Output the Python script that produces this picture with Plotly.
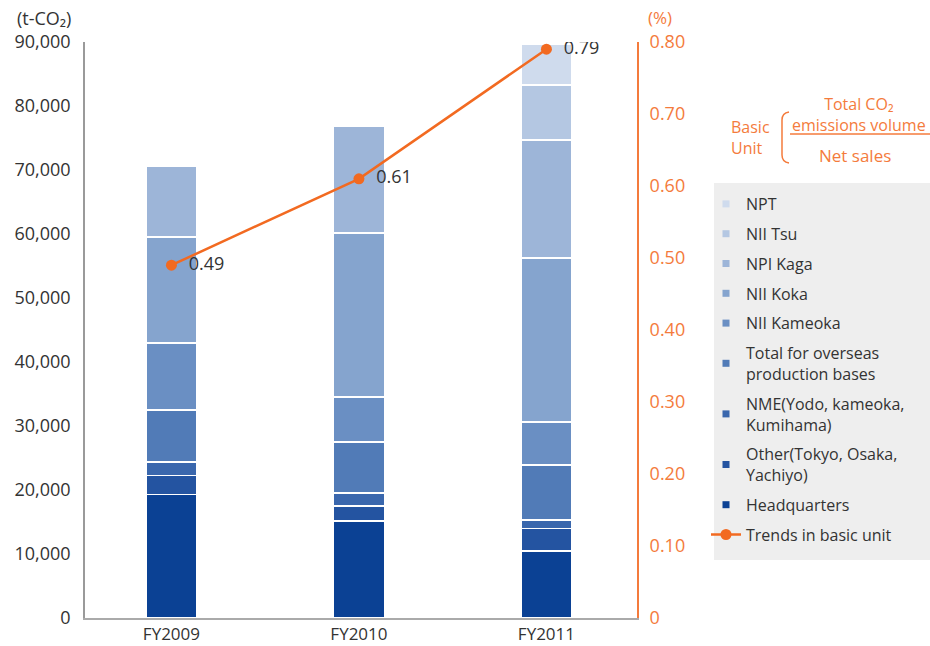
import plotly.graph_objects as go

years = ["FY2009", "FY2010", "FY2011"]

# stacked series, bottom to top (t-CO2)
headquarters = [19300, 15150, 10500]
other_tokyo = [3000, 2350, 3500]
nme = [2100, 2050, 1300]
overseas = [8100, 7950, 8600]
nii_kameoka = [10500, 7000, 6700]
nii_koka = [16500, 25650, 25650]
npi_kaga = [11100, 16750, 18450]
nii_tsu = [0, 0, 8600]
npt = [0, 0, 6400]

basic_unit = [0.49, 0.61, 0.79]
basic_unit_text = ["0.49", "0.61", "0.79"]

left_ticks = [0, 10000, 20000, 30000, 40000, 50000, 60000, 70000, 80000, 90000]
right_ticks = [0, 0.1, 0.2, 0.3, 0.4, 0.5, 0.6, 0.7, 0.8]
right_ticktext = ["0", "0.10", "0.20", "0.30", "0.40", "0.50", "0.60", "0.70", "0.80"]

series = [
    ("Headquarters", headquarters, "#0b4194"),
    ("Other(Tokyo, Osaka,<br>Yachiyo)", other_tokyo, "#2454a1"),
    ("NME(Yodo, kameoka,<br>Kumihama)", nme, "#3a67ad"),
    ("Total for overseas<br>production bases", overseas, "#517bb7"),
    ("NII Kameoka", nii_kameoka, "#6a8fc3"),
    ("NII Koka", nii_koka, "#85a4ce"),
    ("NPI Kaga", npi_kaga, "#9db5d8"),
    ("NII Tsu", nii_tsu, "#b4c7e2"),
    ("NPT", npt, "#cfdbed"),
]

ORANGE = "#f26a21"
ORANGE_TXT = "#f47b3c"
DARK = "#333333"
FONT = "Open Sans"

L, R, T, B = 85, 293, 42, 28
PW, PH = 930 - L - R, 646 - T - B


def px(x):
    return (x - L) / PW


def py(y):
    return (646 - B - y) / PH


fig = go.Figure()

for i, (name, vals, col) in enumerate(series):
    fig.add_trace(go.Bar(
        x=years, y=vals, name=name, width=0.272,
        marker=dict(color=col, line=dict(color="white", width=1.5)),
        showlegend=False, hoverinfo="skip",
    ))

# legend entries (top to bottom)
legend_order = list(reversed(series))
for i, (name, vals, col) in enumerate(legend_order):
    fig.add_trace(go.Scatter(
        x=[None], y=[None], mode="markers", name=name,
        marker=dict(symbol="square", size=7, color=col),
        legendgroup="g%d" % i, legendrank=i + 1,
    ))

fig.add_trace(go.Scatter(
    x=years, y=basic_unit, yaxis="y2", name="Trends in basic unit",
    mode="lines+markers+text", text=["  " + t for t in basic_unit_text],
    textposition="middle right",
    textfont=dict(size=18, color=DARK, family=FONT),
    line=dict(color=ORANGE, width=2.5),
    marker=dict(color=ORANGE, size=11),
    legendgroup="g9", legendrank=10,
))

fig.update_layout(
    width=930, height=646,
    margin=dict(l=L, r=R, t=T, b=B, autoexpand=False),
    paper_bgcolor="white", plot_bgcolor="white",
    barmode="stack",
    font=dict(family=FONT, color=DARK, size=16),
    xaxis=dict(
        range=[-0.461, 2.483], showgrid=False, showline=True,
        linecolor="#aaaaaa", linewidth=2, ticks="", automargin=False,
        tickfont=dict(size=17, color=DARK),
    ),
    yaxis=dict(
        range=[0, 90000], tickvals=left_ticks, tickformat=",",
        showgrid=False, zeroline=False, showline=True, automargin=False,
        linecolor="#9a9a9a", linewidth=1.5,
        ticks="outside", ticklen=9, tickcolor="rgba(0,0,0,0)",
        tickfont=dict(size=18, color=DARK),
    ),
    yaxis2=dict(
        range=[0, 0.8], overlaying="y", side="right", automargin=False,
        tickvals=right_ticks, ticktext=right_ticktext,
        showgrid=False, zeroline=False, showline=True,
        linecolor=ORANGE_TXT, linewidth=2,
        ticks="outside", ticklen=7, tickcolor="rgba(0,0,0,0)",
        tickfont=dict(size=18, color=ORANGE_TXT),
    ),
    legend=dict(
        x=px(706), y=py(187), xanchor="left", yanchor="top",
        bgcolor="rgba(0,0,0,0)", font=dict(size=16, color=DARK),
        tracegroupgap=6, itemwidth=30,
    ),
    showlegend=True,
)

# legend background box
fig.add_shape(type="rect", xref="paper", yref="paper",
              x0=px(714), x1=px(935), y0=py(560), y1=py(183),
              fillcolor="#eeeeee", line=dict(width=0), layer="below")


def note(text, x, y, color, xanchor="center", size=15, align="center"):
    fig.add_annotation(text=text, xref="paper", yref="paper",
                       x=px(x), y=py(y), xanchor=xanchor, yanchor="middle",
                       showarrow=False, align=align,
                       font=dict(size=size, color=color, family=FONT))


# axis titles
note("(t-CO₂)", 44, 18, DARK, size=18)
note("(%)", 660, 18, ORANGE_TXT, size=17)

# basic unit formula
note("Basic<br>Unit", 729, 137, ORANGE_TXT, xanchor="left", align="left", size=16)
note("Total CO₂<br>emissions volume", 859, 114, ORANGE_TXT, size=16)
note("Net sales", 855, 155, ORANGE_TXT, size=17)
fig.add_shape(type="line", xref="paper", yref="paper",
              x0=px(790), x1=px(935), y0=py(134), y1=py(134),
              line=dict(color=ORANGE_TXT, width=1.5))
# bracket
x_a, x_b = px(789), px(782)
fig.add_shape(type="path", xref="paper", yref="paper",
              path="M %f,%f Q %f,%f %f,%f L %f,%f Q %f,%f %f,%f" % (
                  x_a, py(112), x_b, py(113), x_b, py(120),
                  x_b, py(155), x_b, py(162), x_a, py(163)),
              line=dict(color=ORANGE_TXT, width=1.5))

fig.write_html("out.html")
